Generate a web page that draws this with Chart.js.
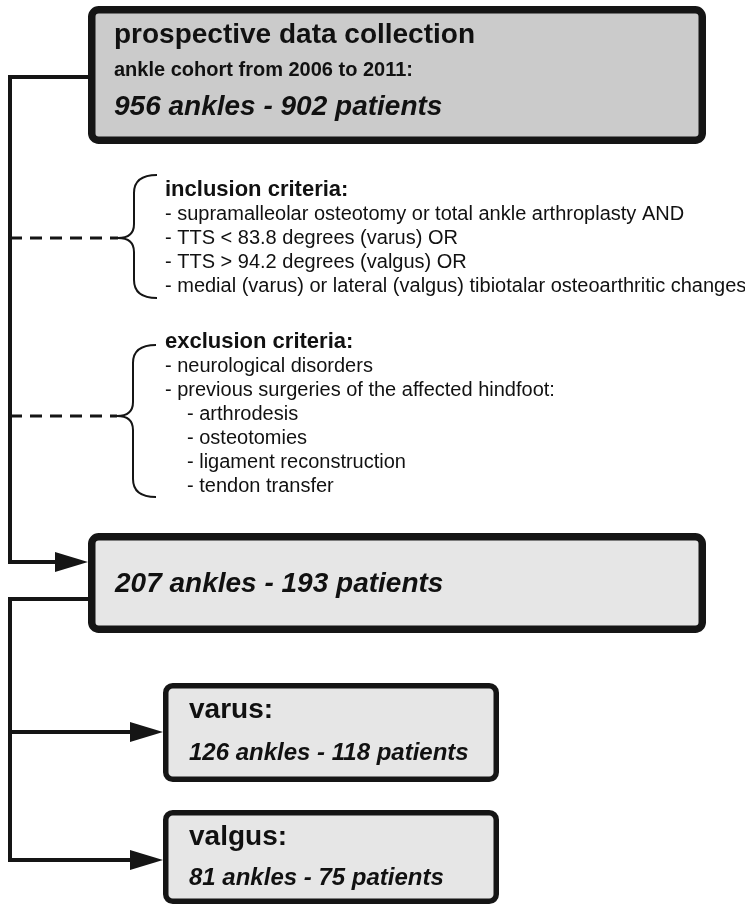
<!DOCTYPE html>
<html><head><meta charset="utf-8">
<script src="https://cdn.jsdelivr.net/npm/chart.js@4/dist/chart.umd.min.js"></script>
<style>html,body{margin:0;padding:0;background:#fff;}canvas{display:block}</style>
</head><body>
<div style="width:745px;height:906px;position:relative"><canvas id="c" width="745" height="906"></canvas></div>
<script>
// ---- data ----
const stageTitles = ["prospective data collection", "", "varus:", "valgus:"];
const stageSubtitles = ["ankle cohort from 2006 to 2011:", "", "", ""];
const ankles = [956, 207, 126, 81];
const patients = [902, 193, 118, 75];
const criteriaTitles = ["inclusion criteria:", "exclusion criteria:"];
const inclusionItems = [
  "supramalleolar osteotomy or total ankle arthroplasty AND",
  "TTS < 83.8 degrees (varus) OR",
  "TTS > 94.2 degrees (valgus) OR",
  "medial (varus) or lateral (valgus) tibiotalar osteoarthritic changes"
];
const exclusionItems = [
  "neurological disorders",
  "previous surgeries of the affected hindfoot:"
];
const exclusionSubItems = ["arthrodesis", "osteotomies", "ligament reconstruction", "tendon transfer"];

// ---- layout (scale units) ----
const boxLayout = [
  {x1: 88, x2: 706, y1: 6, y2: 144, fill: "#cbcbcb", bw: 7.5, tx: 114, titleY: 43, subY: 76, countY: 115, titleSize: 28, countSize: 28},
  {x1: 88, x2: 706, y1: 533, y2: 633, fill: "#e6e6e6", bw: 7.5, tx: 115, titleY: 0, subY: 0, countY: 592, titleSize: 28, countSize: 28},
  {x1: 163, x2: 499, y1: 683, y2: 782, fill: "#e6e6e6", bw: 5.5, tx: 189, titleY: 718, subY: 0, countY: 760, titleSize: 28, countSize: 24},
  {x1: 163, x2: 499, y1: 810, y2: 904, fill: "#e6e6e6", bw: 5.5, tx: 189, titleY: 845, subY: 0, countY: 885, titleSize: 28, countSize: 24}
];
const braceLayout = [
  {top: 175, mid: 238, bot: 298, tip: 118, spine: 134, end: 157, tx: 165, titleY: 196},
  {top: 345, mid: 416, bot: 497, tip: 117, spine: 133, end: 156, tx: 165, titleY: 348}
];
const lineStep = 24;
const trunkX = 10;
const INK = "#151515";
const FONT = "'Liberation Sans', Arial, Helvetica, sans-serif";

const flowPlugin = {
  id: "flow",
  afterDraw(chart) {
    const ctx = chart.ctx;
    const sx = chart.scales.x, sy = chart.scales.y;
    const X = v => sx.getPixelForValue(v);
    const Y = v => sy.getPixelForValue(v);
    ctx.save();
    ctx.lineCap = "butt";
    ctx.lineJoin = "miter";

    function poly(pts, w, dash) {
      ctx.beginPath();
      ctx.setLineDash(dash || []);
      ctx.lineWidth = w;
      ctx.strokeStyle = INK;
      pts.forEach((p, i) => i ? ctx.lineTo(X(p[0]), Y(p[1])) : ctx.moveTo(X(p[0]), Y(p[1])));
      ctx.stroke();
      ctx.setLineDash([]);
    }
    function arrow(tipX, y, baseX, half) {
      ctx.beginPath();
      ctx.fillStyle = INK;
      ctx.moveTo(X(tipX), Y(y));
      ctx.lineTo(X(baseX), Y(y - half));
      ctx.lineTo(X(baseX), Y(y + half));
      ctx.closePath();
      ctx.fill();
    }
    function box(b) {
      const h = b.bw / 2;
      const x = X(b.x1) + h, y = Y(b.y1) + h, w = X(b.x2) - X(b.x1) - b.bw, hh = Y(b.y2) - Y(b.y1) - b.bw;
      ctx.beginPath();
      ctx.roundRect(x, y, w, hh, 7);
      ctx.fillStyle = b.fill;
      ctx.fill();
      ctx.lineWidth = b.bw;
      ctx.strokeStyle = INK;
      ctx.stroke();
    }
    function text(s, x, y, font) {
      ctx.font = font;
      ctx.fillStyle = "#111";
      ctx.textBaseline = "alphabetic";
      ctx.textAlign = "left";
      ctx.fillText(s, X(x), Y(y));
    }
    function brace(b) {
      ctx.beginPath();
      ctx.lineWidth = 2;
      ctx.strokeStyle = INK;
      ctx.moveTo(X(b.end), Y(b.top));
      ctx.quadraticCurveTo(X(b.spine), Y(b.top), X(b.spine), Y(b.top + 18));
      ctx.lineTo(X(b.spine), Y(b.mid - 14));
      ctx.quadraticCurveTo(X(b.spine), Y(b.mid), X(b.tip), Y(b.mid));
      ctx.quadraticCurveTo(X(b.spine), Y(b.mid), X(b.spine), Y(b.mid + 14));
      ctx.lineTo(X(b.spine), Y(b.bot - 18));
      ctx.quadraticCurveTo(X(b.spine), Y(b.bot), X(b.end), Y(b.bot));
      ctx.stroke();
    }

    // connectors
    const B = boxLayout;
    const aY1 = 562, aY2 = 732, aY3 = 860;
    poly([[B[0].x1, 77], [trunkX, 77], [trunkX, aY1], [B[1].x1 - 30, aY1]], 4);
    arrow(B[1].x1, aY1, B[1].x1 - 33, 10);
    poly([[B[1].x1, 599], [trunkX, 599], [trunkX, aY3], [B[3].x1 - 30, aY3]], 4);
    poly([[trunkX, aY2], [B[2].x1 - 30, aY2]], 4);
    arrow(B[2].x1, aY2, B[2].x1 - 33, 10);
    arrow(B[3].x1, aY3, B[3].x1 - 33, 10);
    // dashed connectors to braces
    braceLayout.forEach(b => poly([[trunkX, b.mid], [b.tip, b.mid]], 3, [12, 8]));

    // boxes
    B.forEach((b, i) => {
      box(b);
      if (stageTitles[i]) text(stageTitles[i], b.tx, b.titleY, `bold ${b.titleSize}px ${FONT}`);
      if (stageSubtitles[i]) text(stageSubtitles[i], b.tx, b.subY, `bold 20px ${FONT}`);
      text(`${ankles[i]} ankles - ${patients[i]} patients`, b.tx, b.countY, `italic bold ${b.countSize}px ${FONT}`);
    });

    // criteria
    braceLayout.forEach(brace);
    const inc = braceLayout[0], exc = braceLayout[1];
    text(criteriaTitles[0], inc.tx, inc.titleY, `bold 22px ${FONT}`);
    inclusionItems.forEach((s, i) => text("- " + s, inc.tx, inc.titleY + lineStep * (i + 1), `20px ${FONT}`));
    text(criteriaTitles[1], exc.tx, exc.titleY, `bold 22px ${FONT}`);
    exclusionItems.forEach((s, i) => text("- " + s, exc.tx, exc.titleY + lineStep * (i + 1), `20px ${FONT}`));
    exclusionSubItems.forEach((s, i) => text("- " + s, exc.tx + 22, exc.titleY + lineStep * (i + 1 + exclusionItems.length), `20px ${FONT}`));
    ctx.restore();
  }
};

new Chart(document.getElementById("c"), {
  type: "scatter",
  data: { datasets: [{ data: [], pointRadius: 0 }] },
  options: {
    responsive: false,
    animation: false,
    layout: { padding: 0 },
    plugins: { legend: { display: false }, tooltip: { enabled: false } },
    scales: {
      x: { type: "linear", min: 0, max: 745, display: false },
      y: { type: "linear", min: 0, max: 906, reverse: true, display: false }
    }
  },
  plugins: [flowPlugin]
});
</script>
</body></html>
